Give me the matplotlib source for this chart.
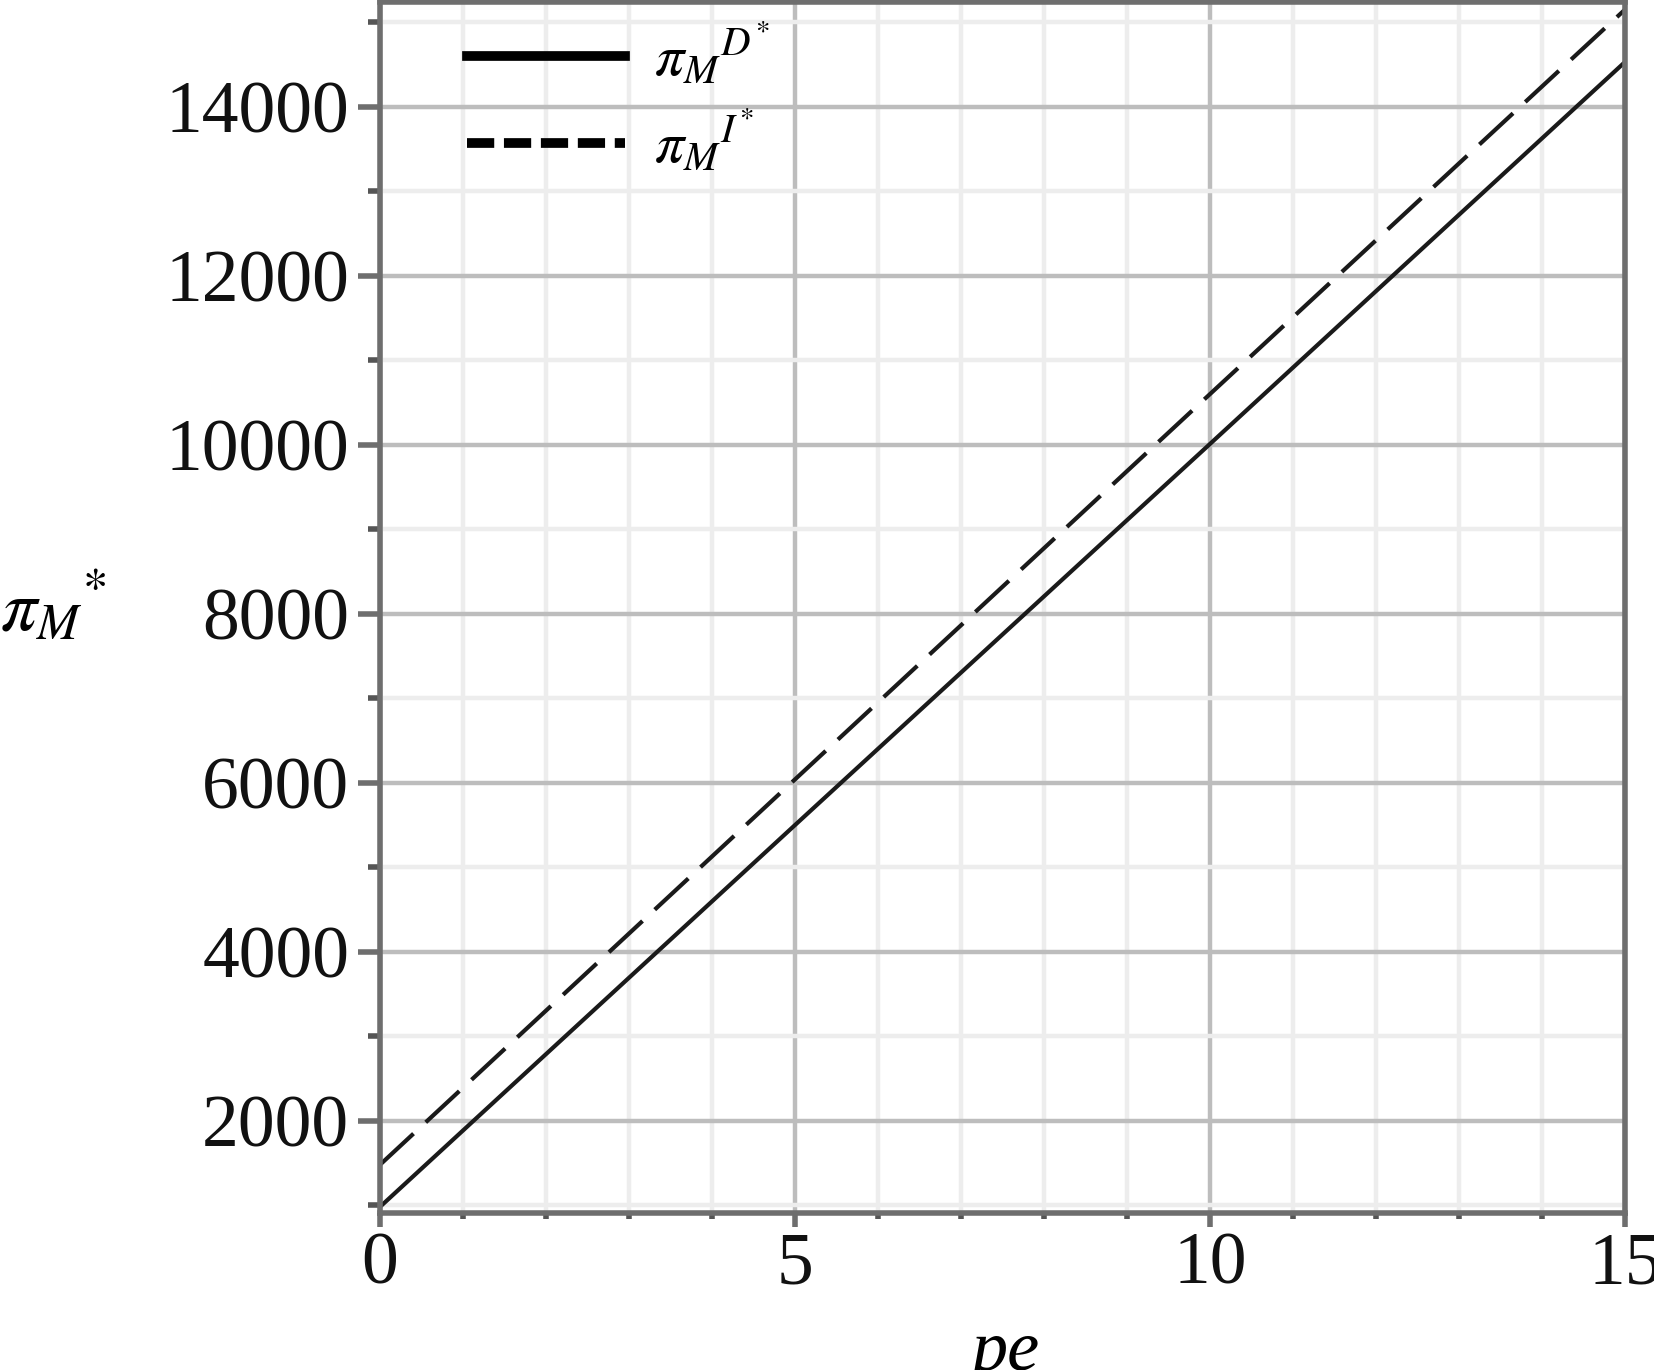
import numpy as np
import matplotlib.pyplot as plt
from matplotlib.lines import Line2D
from matplotlib.ticker import MultipleLocator

plt.rcParams['font.family'] = ['Liberation Serif', 'DejaVu Serif']
plt.rcParams['mathtext.fontset'] = 'stix'

# data
pe = [0, 5, 10, 15]
pi_D = [982, 5500, 10010, 14530]     # solid
pi_I = [1480, 6040, 10600, 15150]    # dashed
xticks = [0, 5, 10, 15]
yticks = [2000, 4000, 6000, 8000, 10000, 12000, 14000]

fig = plt.figure(figsize=(16.54, 13.70), dpi=100)
ax = fig.add_axes([0.2297, 0.1146, 0.7528, 0.884])

ax.set_xlim(0, 15)
ax.set_ylim(910, 15240)

ax.set_xticks(xticks)
ax.xaxis.set_minor_locator(MultipleLocator(1))
ax.set_yticks(yticks)
ax.yaxis.set_minor_locator(MultipleLocator(1000))

ax.grid(which='major', color='#bdbdbd', lw=3.2, zorder=0)
ax.grid(which='minor', color='#ededed', lw=3.2, zorder=0)
ax.set_axisbelow(True)

ax.plot(pe, pi_D, color='#1a1a1a', lw=3.0, solid_capstyle='butt')
ax.plot(pe, pi_I, color='#1a1a1a', lw=3.0, dashes=(11, 4))

for s in ax.spines.values():
    s.set_color('#6e6e6e')
    s.set_linewidth(4)

ax.tick_params(axis='both', which='major', labelsize=53, colors='#6e6e6e',
               labelcolor='#111111', width=4)
ax.tick_params(axis='x', which='major', length=10, pad=4)
ax.tick_params(axis='y', which='major', length=16, pad=6)
ax.tick_params(axis='x', which='minor', length=4, width=4, colors='#555555')
ax.tick_params(axis='y', which='minor', length=9, width=4, colors='#555555')
ax.set_xticklabels([str(v) for v in xticks])
ax.set_yticklabels([str(v) for v in yticks])

ax.set_xlabel('pe', fontsize=52, style='italic', va='top')
ax.xaxis.set_label_coords(0.502, -0.088)
ax.set_ylabel(r'$\pi_{M}{}^{*}$', fontsize=52, rotation=0, ha='left', va='center')
ax.yaxis.set_label_coords(-0.305, 0.50)

handles = [Line2D([], [], color='black', lw=7),
           Line2D([], [], color='black', lw=7, dashes=(2.8, 1.0))]
ax.legend(handles, [r'$\pi_{M}{}^{D^{*}}$', r'$\pi_{M}{}^{I^{*}}$'],
          loc='upper left', bbox_to_anchor=(0.07, 0.984), frameon=False,
          fontsize=42, handlelength=2.7, handletextpad=0.5,
          borderpad=0, borderaxespad=0, labelspacing=0.35)

fig.savefig('out.png', dpi=100)
